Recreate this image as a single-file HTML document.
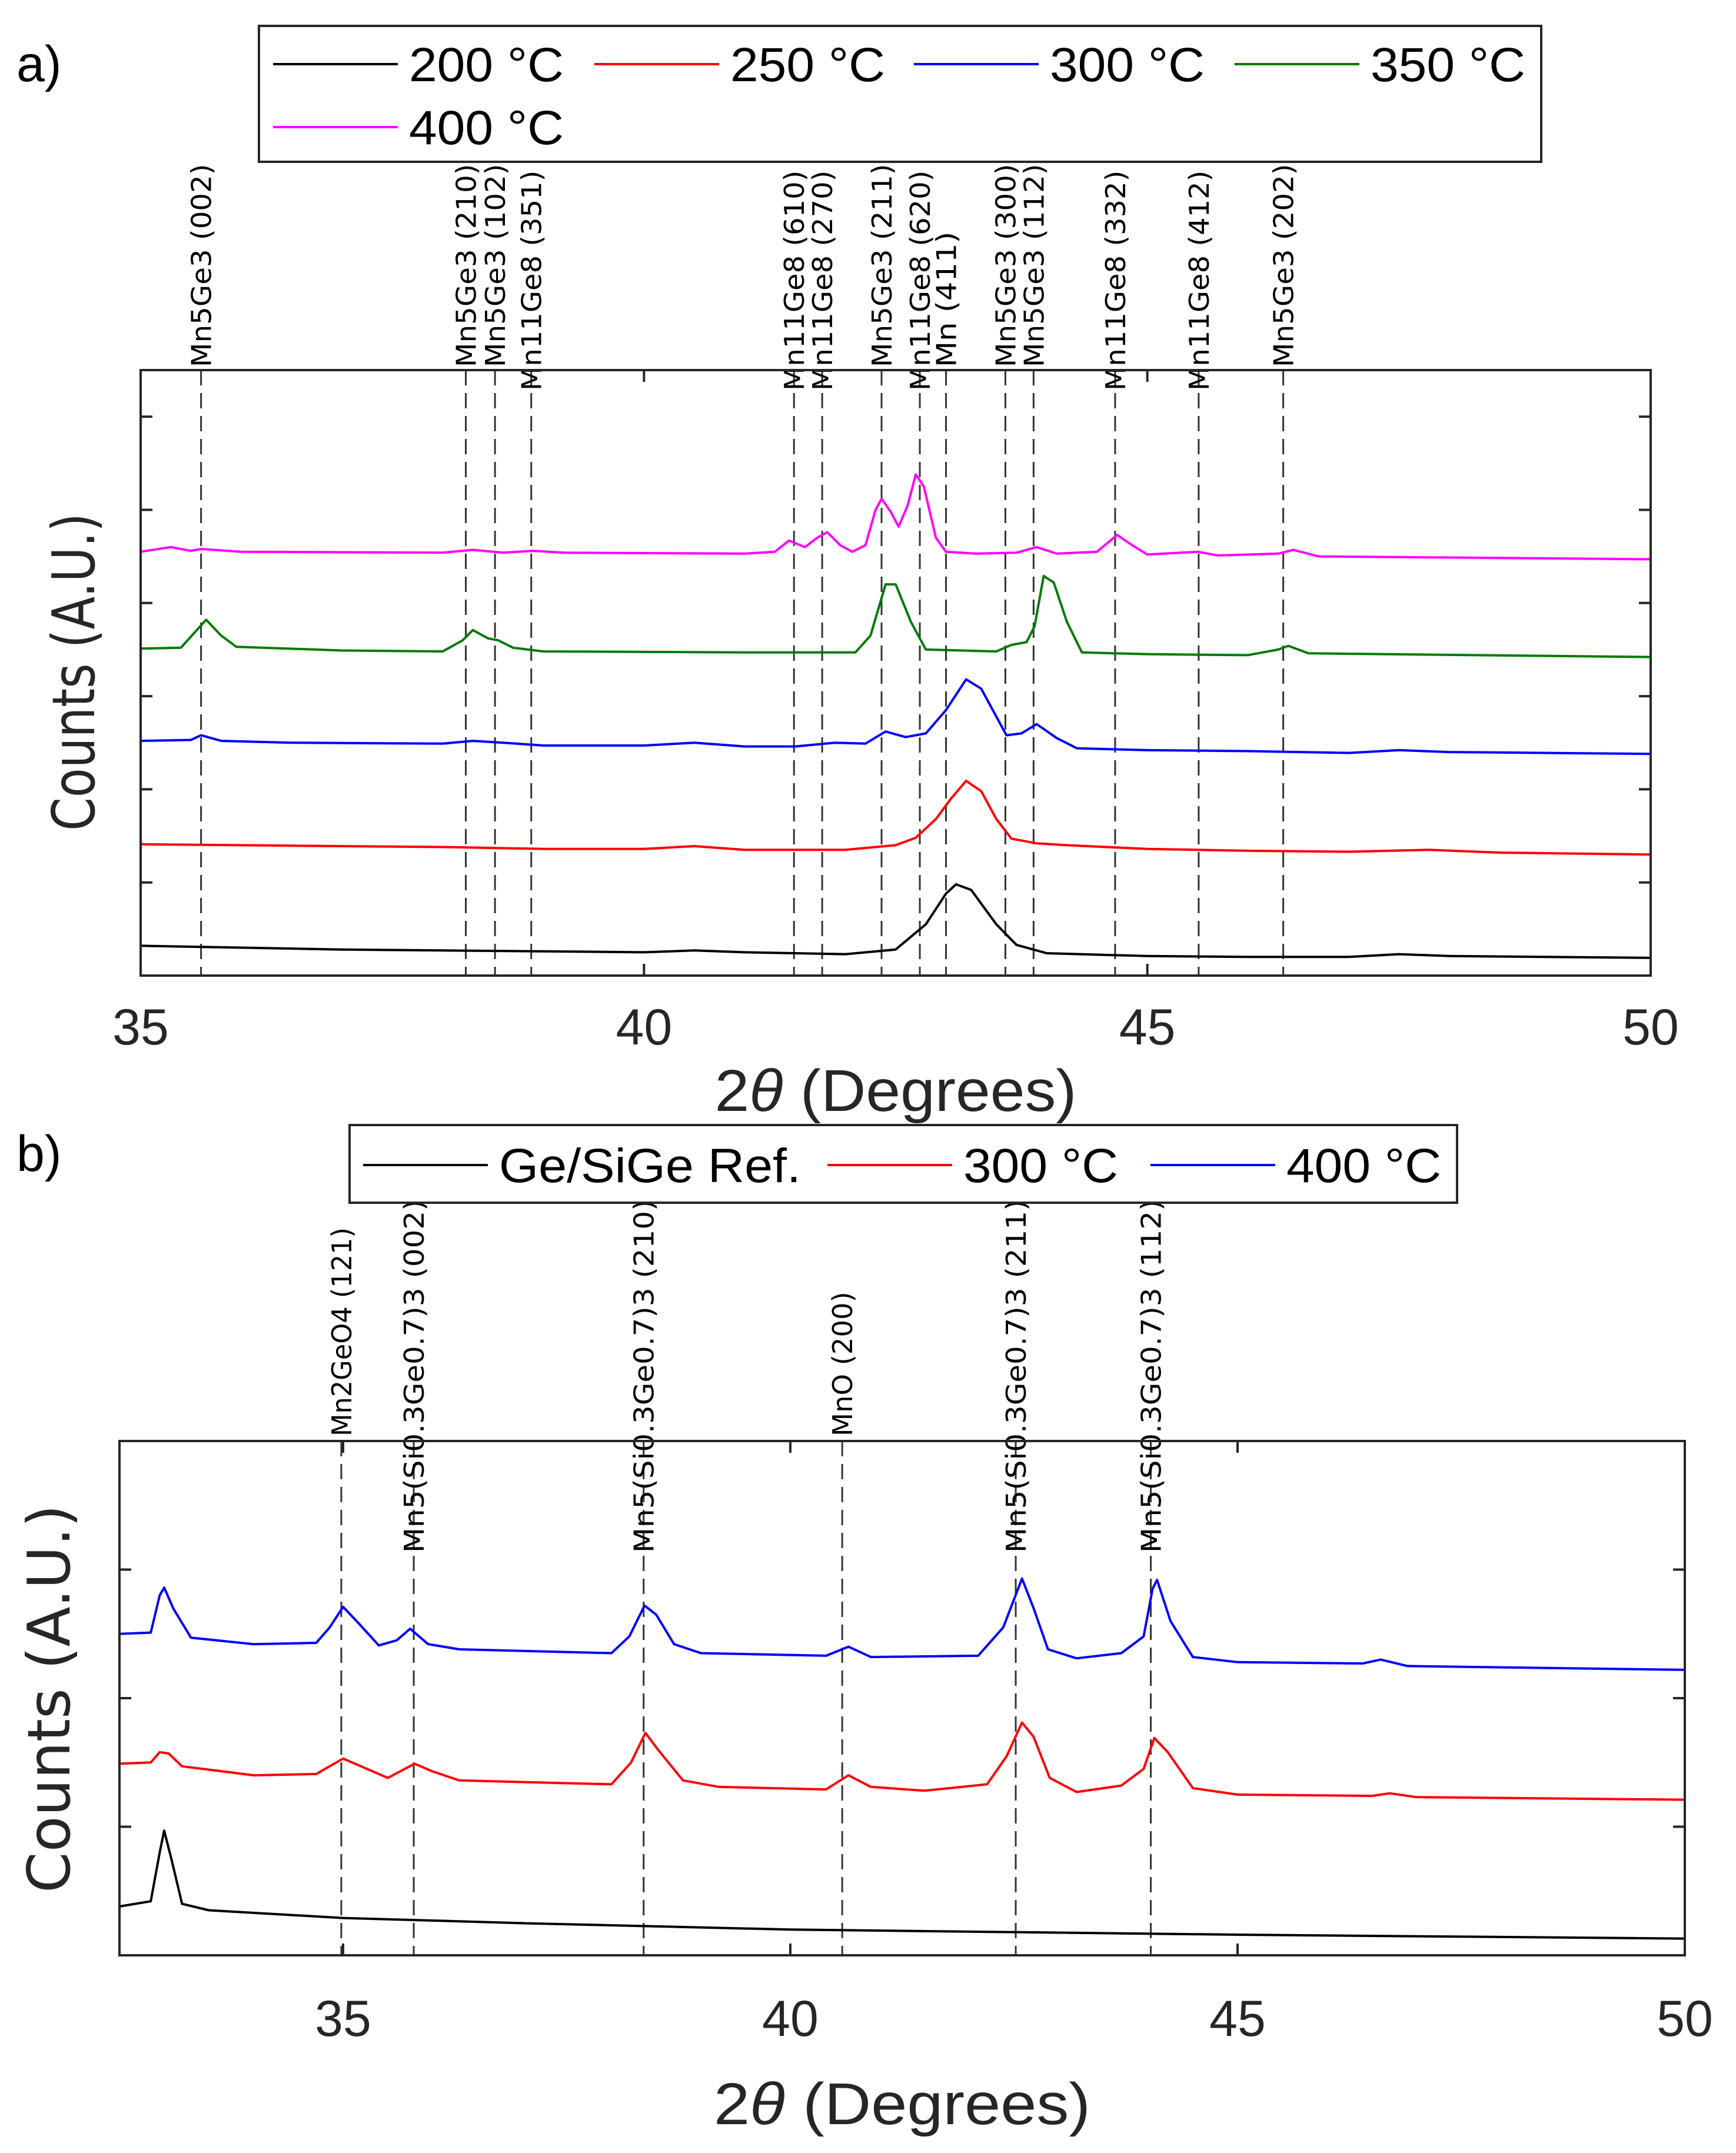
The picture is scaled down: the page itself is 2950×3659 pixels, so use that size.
<!DOCTYPE html>
<html><head><meta charset="utf-8"><style>
html,body{margin:0;padding:0;background:#fff}
svg{display:block}
</style></head><body>
<svg id="fig" width="2950" height="3659" viewBox="0 0 2950 3659" xmlns="http://www.w3.org/2000/svg">
<rect width="2950" height="3659" fill="#fff"/>
</svg>
<script>
// ---------- Panel a data ----------
const aTicksX = [35, 40, 45, 50];
const aTicksY = [1, 2, 3, 4, 5, 6];
const aSeriesNames = ["200 °C", "250 °C", "300 °C", "350 °C", "400 °C"];
const aSeriesColors = ["#000000", "#ff0000", "#0000ff", "#007a00", "#ff00ff"];
const a200 = [[35,0.32],[36,0.30],[37,0.28],[38,0.27],[39,0.26],[40,0.25],[40.5,0.27],[41,0.25],[42,0.23],[42.5,0.28],[42.8,0.55],[43.0,0.88],[43.1,0.98],[43.25,0.92],[43.5,0.55],[43.7,0.33],[44,0.24],[45,0.21],[46,0.20],[47,0.20],[47.5,0.23],[48,0.21],[50,0.19]];
const a250 = [[35,1.41],[36,1.40],[37,1.39],[38,1.38],[39,1.36],[40,1.36],[40.5,1.39],[41,1.35],[42,1.35],[42.5,1.40],[42.7,1.48],[42.9,1.68],[43.05,1.9],[43.2,2.09],[43.35,1.98],[43.5,1.68],[43.65,1.47],[43.9,1.42],[44.2,1.40],[45,1.36],[46,1.34],[47,1.33],[47.8,1.35],[48.5,1.32],[50,1.30]];
const a300 = [[35,2.52],[35.5,2.53],[35.6,2.58],[35.8,2.52],[36.5,2.50],[38,2.49],[38.3,2.52],[38.6,2.50],[39,2.47],[40,2.47],[40.5,2.50],[41,2.46],[41.5,2.46],[41.9,2.50],[42.2,2.49],[42.4,2.62],[42.6,2.56],[42.8,2.60],[43.0,2.85],[43.2,3.18],[43.35,3.08],[43.5,2.78],[43.6,2.58],[43.75,2.6],[43.9,2.70],[44.1,2.55],[44.3,2.44],[45,2.42],[46,2.41],[47,2.39],[47.5,2.42],[48,2.40],[50,2.38]];
const a350 = [[35,3.51],[35.4,3.52],[35.55,3.7],[35.65,3.82],[35.8,3.65],[35.95,3.53],[37,3.49],[38,3.48],[38.2,3.6],[38.3,3.71],[38.45,3.62],[38.55,3.6],[38.7,3.52],[39,3.48],[41,3.47],[42.1,3.47],[42.25,3.65],[42.4,4.2],[42.5,4.2],[42.65,3.8],[42.8,3.5],[43.5,3.48],[43.65,3.55],[43.8,3.58],[43.88,3.75],[43.97,4.29],[44.07,4.22],[44.2,3.8],[44.35,3.47],[45,3.45],[46,3.44],[46.3,3.5],[46.4,3.54],[46.6,3.46],[50,3.42]];
const a400 = [[35,4.55],[35.3,4.6],[35.5,4.56],[35.6,4.58],[36,4.55],[38,4.54],[38.3,4.57],[38.6,4.54],[38.9,4.56],[39.2,4.54],[41,4.53],[41.3,4.55],[41.44,4.67],[41.6,4.6],[41.72,4.7],[41.82,4.76],[41.95,4.62],[42.07,4.55],[42.2,4.62],[42.3,5.0],[42.36,5.12],[42.45,4.98],[42.53,4.82],[42.62,5.05],[42.7,5.38],[42.78,5.25],[42.9,4.7],[43.0,4.55],[43.3,4.53],[43.7,4.54],[43.9,4.6],[44.1,4.53],[44.5,4.55],[44.7,4.73],[44.85,4.62],[45.0,4.52],[45.5,4.55],[45.7,4.51],[46.3,4.53],[46.45,4.57],[46.7,4.50],[50,4.47]];
const aPeakPos = [35.6,38.23,38.52,38.88,41.49,41.77,42.36,42.74,43.0,43.59,43.87,44.68,45.51,46.35];
const aPeakLabels = ["Mn5Ge3 (002)","Mn5Ge3 (210)","Mn5Ge3 (102)","Mn11Ge8 (351)","Mn11Ge8 (610)","Mn11Ge8 (270)","Mn5Ge3 (211)","Mn11Ge8 (620)","Mn (411)","Mn5Ge3 (300)","Mn5Ge3 (112)","Mn11Ge8 (332)","Mn11Ge8 (412)","Mn5Ge3 (202)"];

// ---------- Panel b data ----------
const bTicksX = [35, 40, 45, 50];
const bTicksY = [1, 2, 3];
const bSeriesNames = ["Ge/SiGe Ref.", "300 °C", "400 °C"];
const bSeriesColors = ["#000000", "#ff0000", "#0000ff"];
const bRef = [[32.5,0.38],[32.85,0.42],[32.95,0.8],[33.0,0.97],[33.08,0.75],[33.2,0.4],[33.5,0.35],[35,0.29],[37,0.25],[40,0.20],[45,0.16],[50,0.13]];
const b300 = [[32.5,1.49],[32.85,1.50],[32.95,1.58],[33.05,1.57],[33.2,1.47],[34,1.40],[34.7,1.41],[35.0,1.53],[35.2,1.47],[35.5,1.38],[35.8,1.49],[36.0,1.43],[36.3,1.36],[38,1.33],[38.22,1.5],[38.38,1.73],[38.52,1.6],[38.8,1.36],[39.2,1.31],[40.4,1.29],[40.65,1.40],[40.9,1.31],[41.5,1.28],[42.2,1.33],[42.42,1.55],[42.59,1.81],[42.72,1.7],[42.9,1.38],[43.2,1.27],[43.7,1.32],[43.95,1.45],[44.07,1.69],[44.22,1.58],[44.5,1.30],[45,1.25],[46.5,1.24],[46.7,1.26],[47,1.23],[50,1.21]];
const b400 = [[32.5,2.50],[32.85,2.51],[32.95,2.8],[33.0,2.86],[33.1,2.7],[33.3,2.47],[34,2.42],[34.7,2.43],[34.85,2.55],[35.0,2.71],[35.15,2.6],[35.4,2.41],[35.6,2.45],[35.75,2.54],[35.95,2.42],[36.3,2.38],[38,2.35],[38.2,2.48],[38.37,2.72],[38.5,2.65],[38.7,2.42],[39,2.35],[40.4,2.33],[40.65,2.40],[40.9,2.32],[42.1,2.33],[42.38,2.55],[42.59,2.93],[42.72,2.7],[42.88,2.38],[43.2,2.31],[43.7,2.35],[43.95,2.48],[44.05,2.85],[44.1,2.92],[44.25,2.6],[44.5,2.32],[45,2.28],[46.4,2.27],[46.6,2.30],[46.9,2.25],[50,2.22]];
const bPeakPos = [34.98,35.79,38.36,40.58,42.52,44.03];
const bPeakLabels = ["Mn2GeO4 (121)","Mn5(Si0.3Ge0.7)3 (002)","Mn5(Si0.3Ge0.7)3 (210)","MnO (200)","Mn5(Si0.3Ge0.7)3 (211)","Mn5(Si0.3Ge0.7)3 (112)"];

const NS = "http://www.w3.org/2000/svg";
const svg = document.getElementById('fig');
function mk(tag, attrs, parent) {
  const e = document.createElementNS(NS, tag);
  for (const k in attrs) e.setAttribute(k, attrs[k]);
  (parent || svg).appendChild(e);
  return e;
}

function panel(cfg) {
  const g = mk('g', {});
  
  
  const X = v => cfg.x0 + (v - cfg.xmin) / (cfg.xmax - cfg.xmin) * (cfg.x1 - cfg.x0);
  const Y = u => cfg.y1 - (u - cfg.ymin) / (cfg.ymax - cfg.ymin) * (cfg.y1 - cfg.y0);
  cfg.peaks.forEach((p, i) => {
    const l = mk('line', {x1: X(p), x2: X(p), y1: cfg.y0, y2: cfg.y1, stroke: '#333', 'stroke-width': 3, 'stroke-dasharray': '26 13'}, g);
    
    
    const lab = cfg.labels[i];
    const isLong = cfg.longTest(lab);
    const yb = isLong ? cfg.labBottomLong : cfg.labBottom;
    const t = mk('text', {x: 0, y: 0, transform: `translate(${X(p) + 17},${yb}) rotate(-90)`, 'font-family': '"DejaVu Sans", sans-serif', 'font-size': 46, fill: '#000', textLength: lab.length * cfg.charW, lengthAdjust: 'spacingAndGlyphs'}, g);
    t.textContent = lab;
    
    
  });
  cfg.series.forEach((s, i) => {
    const pts = s.map(d => X(d[0]).toFixed(1) + ',' + Y(d[1]).toFixed(1)).join(' ');
    const pl = mk('polyline', {points: pts, fill: 'none', stroke: cfg.colors[i], 'stroke-width': 4, 'stroke-linejoin': 'round'}, g);
    
    
  });
  const box = mk('rect', {x: cfg.x0, y: cfg.y0, width: cfg.x1 - cfg.x0, height: cfg.y1 - cfg.y0, fill: 'none', stroke: '#262626', 'stroke-width': 4}, g);
  
  
  cfg.ticksY.forEach(u => {
    mk('line', {x1: cfg.x0, x2: cfg.x0 + 20, y1: Y(u), y2: Y(u), stroke: '#262626', 'stroke-width': 4}, g);
    mk('line', {x1: cfg.x1, x2: cfg.x1 - 20, y1: Y(u), y2: Y(u), stroke: '#262626', 'stroke-width': 4}, g);
  });
  cfg.ticksX.forEach(v => {
    mk('line', {x1: X(v), x2: X(v), y1: cfg.y1, y2: cfg.y1 - 20, stroke: '#262626', 'stroke-width': 4}, g);
    mk('line', {x1: X(v), x2: X(v), y1: cfg.y0, y2: cfg.y0 + 20, stroke: '#262626', 'stroke-width': 4}, g);
    const t = mk('text', {x: X(v), y: cfg.tickY, 'text-anchor': 'middle', 'font-family': '"Liberation Sans", sans-serif', 'font-size': 86, fill: '#262626'}, g);
    t.textContent = v;
    
    
  });
  const xt = mk('text', {x: (cfg.x0 + cfg.x1) / 2, y: cfg.titleY, 'text-anchor': 'middle', 'font-family': '"Liberation Sans", sans-serif', 'font-size': 100, fill: '#262626', textLength: cfg.xTitleLen, lengthAdjust: 'spacingAndGlyphs'}, g);
  xt.innerHTML = '2<tspan font-style="italic">θ</tspan> (Degrees)';
  
  
  const yt = mk('text', {x: 0, y: 0, transform: `translate(${cfg.yTitleX},${cfg.yTitleY}) rotate(-90)`, 'text-anchor': 'middle', 'font-family': '"DejaVu Sans", sans-serif', 'font-size': 100, fill: '#262626', textLength: cfg.yTitleLen, lengthAdjust: 'spacingAndGlyphs'}, g);
  yt.textContent = 'Counts (A.U.)';
  
  
  const pl = mk('text', {x: 28, y: cfg.letterY, 'font-family': '"Liberation Sans", sans-serif', 'font-size': 86, fill: '#000'}, g);
  pl.textContent = cfg.letter;
  
  
  const lg = mk('g', {}, g);
  
  
  const L = cfg.legend;
  mk('rect', {x: L.x, y: L.y, width: L.w, height: L.h, fill: '#fff', stroke: '#262626', 'stroke-width': 4}, lg);
  cfg.names.forEach((n, i) => {
    const e = L.entries[i];
    const eg = mk('g', {}, lg);
    
    
    mk('line', {x1: e[0], x2: e[0] + 212, y1: e[1], y2: e[1], stroke: cfg.colors[i], 'stroke-width': 4}, eg);
    const t = mk('text', {x: e[0] + 231, y: e[1] + 29, 'font-family': '"Liberation Sans", sans-serif', 'font-size': 82, fill: '#000', textLength: e[2], lengthAdjust: 'spacingAndGlyphs'}, eg);
    t.textContent = n;
  });
}

panel({
  name: 'panel-a', letter: 'a)', letterY: 138,
  x0: 239, x1: 2805, y0: 629, y1: 1658, xmin: 35, xmax: 50, ymin: 0, ymax: 6.5,
  ticksX: aTicksX, ticksY: aTicksY, tickY: 1775, titleY: 1888, xTitleLen: 615,
  yTitleX: 160, yTitleY: 1142, yTitleLen: 540,
  series: [a200, a250, a300, a350, a400], colors: aSeriesColors, names: aSeriesNames,
  peaks: aPeakPos, labels: aPeakLabels, longTest: s => s.indexOf('Mn11') === 0,
  labBottom: 624, labBottomLong: 664, charW: 28.8,
  legend: {x: 440, y: 44, w: 2179, h: 231, entries: [[464,109,263],[1010,109,263],[1553,109,263],[2098,109,263],[464,216,263]]}
});

panel({
  name: 'panel-b', letter: 'b)', letterY: 1990,
  x0: 203, x1: 2863, y0: 2449, y1: 3323, xmin: 32.5, xmax: 50, ymin: 0, ymax: 4,
  ticksX: bTicksX, ticksY: bTicksY, tickY: 3460, titleY: 3610, xTitleLen: 640,
  yTitleX: 118, yTitleY: 2887, yTitleLen: 660,
  series: [bRef, b300, b400], colors: bSeriesColors, names: bSeriesNames,
  peaks: bPeakPos, labels: bPeakLabels, longTest: s => s.indexOf('Mn5(') === 0,
  labBottom: 2441, labBottomLong: 2639, charW: 27.3,
  legend: {x: 594, y: 1912, w: 1882, h: 132, entries: [[617,1980,513],[1406,1980,263],[1955,1980,263]]}
});
</script>
</body></html>
